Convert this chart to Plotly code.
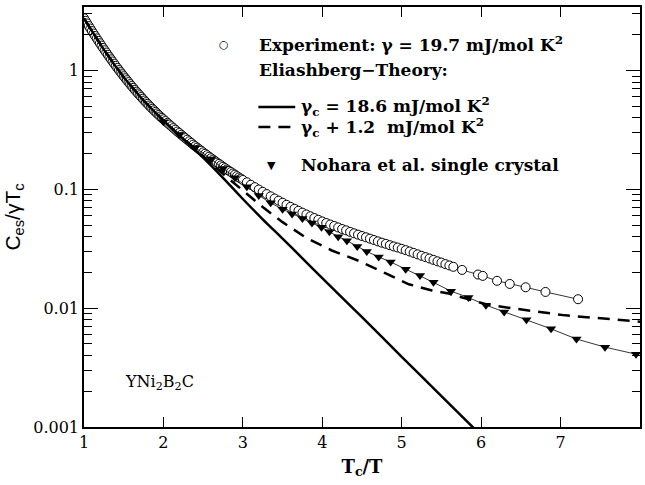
import plotly.graph_objects as go

# ---------------- data ----------------
exp_x = [1.00, 1.02, 1.04, 1.06, 1.08, 1.10, 1.12, 1.14, 1.16, 1.18,
         1.20, 1.22, 1.24, 1.26, 1.28, 1.30, 1.32, 1.34, 1.36, 1.38,
         1.40, 1.42, 1.44, 1.46, 1.48, 1.50, 1.52, 1.54, 1.56, 1.58,
         1.60, 1.62, 1.64, 1.66, 1.68, 1.70, 1.72, 1.74, 1.76, 1.78,
         1.80, 1.82, 1.84, 1.86, 1.88, 1.90, 1.92, 1.94, 1.96, 1.98,
         2.000, 2.025, 2.050, 2.075, 2.100, 2.125, 2.150, 2.175, 2.200, 2.225,
         2.250, 2.275, 2.300, 2.325, 2.350, 2.375, 2.400, 2.425, 2.450, 2.475,
         2.500, 2.525, 2.550, 2.575, 2.600, 2.625, 2.650, 2.675, 2.700, 2.725,
         2.750, 2.775, 2.800, 2.825, 2.850, 2.875, 2.900, 2.925, 2.950, 2.975,
         3.00, 3.05, 3.10, 3.15, 3.20, 3.25, 3.30, 3.35, 3.40, 3.45,
         3.50, 3.55, 3.60, 3.65, 3.70, 3.75, 3.80, 3.85, 3.90, 3.95,
         4.00, 4.05, 4.10, 4.15, 4.20, 4.25, 4.30, 4.35, 4.40, 4.45,
         4.50, 4.55, 4.60, 4.65, 4.70, 4.75, 4.80, 4.85, 4.90, 4.95,
         5.00, 5.05, 5.10, 5.15, 5.20, 5.25, 5.30, 5.35, 5.40, 5.45,
         5.50, 5.55, 5.60, 5.65, 5.76, 5.96, 6.02, 6.20, 6.36, 6.56,
         6.81, 7.22]
exp_y = [2.754, 2.619, 2.491, 2.371, 2.258, 2.150, 2.049, 1.954, 1.864, 1.779,
         1.698, 1.622, 1.550, 1.482, 1.418, 1.357, 1.299, 1.244, 1.192, 1.143,
         1.096, 1.052, 1.010, 0.970, 0.932, 0.896, 0.862, 0.830, 0.799, 0.769,
         0.741, 0.715, 0.689, 0.665, 0.642, 0.620, 0.599, 0.579, 0.560, 0.542,
         0.525, 0.508, 0.492, 0.477, 0.463, 0.449, 0.436, 0.423, 0.411, 0.400,
         0.389, 0.376, 0.363, 0.351, 0.340, 0.328, 0.318, 0.307, 0.298, 0.288,
         0.279, 0.270, 0.262, 0.254, 0.246, 0.238, 0.231, 0.2245, 0.218, 0.2115,
         0.205, 0.1994, 0.194, 0.1883, 0.183, 0.178, 0.173, 0.168, 0.164, 0.1594,
         0.155, 0.151, 0.147, 0.1433, 0.140, 0.1361, 0.133, 0.1294, 0.126, 0.1232,
         0.120, 0.1146, 0.1093, 0.1044, 0.0997, 0.0954, 0.0913, 0.0874, 0.0838, 0.0804,
         0.0772, 0.0742, 0.0713, 0.0687, 0.0661, 0.0637, 0.0615, 0.0594, 0.0574, 0.0555,
         0.0537, 0.0521, 0.0506, 0.0492, 0.0478, 0.0464, 0.0452, 0.0439, 0.0427, 0.0416,
         0.0405, 0.0395, 0.0385, 0.0375, 0.0365, 0.0356, 0.0348, 0.0339, 0.0331, 0.0324,
         0.0316, 0.0308, 0.0300, 0.0292, 0.0284, 0.0276, 0.0269, 0.0262, 0.0255, 0.0248,
         0.0242, 0.0235, 0.0229, 0.0223, 0.0210, 0.0192, 0.0187, 0.0170, 0.0160, 0.0150,
         0.0137, 0.0119]

theory_x = [1.00, 1.25, 1.50, 1.75, 2.00, 2.25, 2.50, 2.75, 3.00, 3.25,
            3.50, 3.75, 4.00, 4.50, 5.00, 5.50, 6.00]
theory_y = [2.75, 1.50, 0.88, 0.56, 0.38, 0.265, 0.185, 0.125, 0.083, 0.056,
            0.0385, 0.0263, 0.0179, 0.0084, 0.0039, 0.00182, 0.00085]

theory2_x = [1.00, 1.25, 1.50, 1.75, 2.00, 2.25, 2.50, 2.75, 3.00, 3.25,
             3.50, 3.80, 4.12, 4.46, 4.80, 5.09, 5.38, 5.59, 6.06, 6.43,
             7.06, 7.69, 8.00]
theory2_y = [2.75, 1.50, 0.88, 0.56, 0.38, 0.267, 0.19, 0.135, 0.097, 0.071,
             0.053, 0.039, 0.0306, 0.025, 0.0196, 0.0159, 0.0141, 0.0133, 0.0108, 0.0099,
             0.0087, 0.0080, 0.0077]

nohara_x = [2.00, 2.20, 2.40, 2.60, 2.75, 2.90, 3.05, 3.20, 3.35, 3.50,
            3.62, 3.75, 3.87, 3.99, 4.09, 4.20, 4.31, 4.44, 4.56, 4.71,
            4.86, 5.05, 5.23, 5.40, 5.62, 5.84, 6.06, 6.29, 6.57, 6.88,
            7.20, 7.56, 7.95]
nohara_y = [0.37, 0.29, 0.225, 0.180, 0.150, 0.125, 0.105, 0.089, 0.077, 0.068,
            0.062, 0.057, 0.052, 0.048, 0.044, 0.040, 0.037, 0.033, 0.030, 0.027,
            0.0245, 0.0213, 0.0188, 0.0165, 0.0139, 0.0123, 0.0106, 0.0093, 0.0080, 0.0067,
            0.0055, 0.0047, 0.0041]

x_ticks = [1, 2, 3, 4, 5, 6, 7, 8]
y_ticks = [0.001, 0.01, 0.1, 1]
y_ticktext = ["0.001", "0.01", "0.1", "1"]
y_minor = [m * 10.0 ** e for e in (-3, -2, -1) for m in range(2, 10)] + [2, 3]

SERIF = "DejaVu Serif"

fig = go.Figure()
fig.add_trace(go.Scatter(x=exp_x, y=exp_y, mode="lines+markers",
                         line=dict(color="black", width=0.8),
                         marker=dict(symbol="circle", size=9, color="white",
                                     line=dict(color="black", width=1))))
fig.add_trace(go.Scatter(x=nohara_x, y=nohara_y, mode="lines+markers",
                         line=dict(color="black", width=0.8),
                         marker=dict(symbol="triangle-down", size=9, color="black")))
fig.add_trace(go.Scatter(x=theory_x, y=theory_y, mode="lines", line_shape="spline",
                         line=dict(color="black", width=2.5, smoothing=0.6)))
fig.add_trace(go.Scatter(x=theory2_x, y=theory2_y, mode="lines",
                         line=dict(color="black", width=2.5, dash="12px,8px")))

axis_common = dict(showline=True, linecolor="black", linewidth=1.5, mirror="ticks",
                   ticks="inside", tickcolor="black", showgrid=False, zeroline=False,
                   tickfont=dict(family=SERIF, size=16, color="black"))

fig.update_xaxes(range=[1, 8], tickvals=x_ticks, ticklen=10, tickwidth=1.2,
                 title=dict(text="<b>T<sub>c</sub>/T</b>", font=dict(family=SERIF, size=18, color="black"),
                            standoff=9),
                 **axis_common)
fig.update_yaxes(type="log", range=[-3, 0.535], tickvals=y_ticks, ticktext=y_ticktext,
                 ticklen=14, tickwidth=1.2,
                 minor=dict(tickvals=y_minor, ticks="inside", ticklen=8, tickcolor="black", tickwidth=1),
                 title=dict(text="C<sub>es</sub>/γT<sub>c</sub>",
                            font=dict(family="Liberation Sans", size=21, color="black"), standoff=7),
                 **axis_common)

def px2paper(px, py):
    return (px - 84) / 558.0, (427 - py) / 420.0

ann = []
def text(px, py, s, size=17, bold=True, xanchor="left"):
    x, y = px2paper(px, py)
    ann.append(dict(x=x, y=y, xref="paper", yref="paper", text=(f"<b>{s}</b>" if bold else s),
                    showarrow=False, xanchor=xanchor, yanchor="middle",
                    font=dict(family=SERIF, size=size, color="black")))

text(225, 44, "○", size=11, bold=False, xanchor="center")
text(258, 44, "Experiment: γ = 19.7 mJ/mol K<sup>2</sup>")
text(258, 70, "Eliashberg−Theory:")
text(300, 106, "γ<sub>c</sub> = 18.6 mJ/mol K<sup>2</sup>")
text(300, 127, "γ<sub>c</sub> + 1.2  mJ/mol K<sup>2</sup>")
text(272, 165, "▼", size=11, bold=False, xanchor="center")
text(300, 165, "Nohara et al. single crystal")
text(123, 382, "YNi<sub>2</sub>B<sub>2</sub>C", size=16, bold=False)

shapes = []
x0, y0 = px2paper(259, 107)
x1, _ = px2paper(296, 107)
shapes.append(dict(type="line", xref="paper", yref="paper", x0=x0, x1=x1, y0=y0, y1=y0,
                   line=dict(color="black", width=2.5)))
x0, y0 = px2paper(259, 127)
x1, _ = px2paper(296, 127)
shapes.append(dict(type="line", xref="paper", yref="paper", x0=x0, x1=x1, y0=y0, y1=y0,
                   line=dict(color="black", width=2.5, dash="12px,8px")))

fig.update_layout(width=645, height=485, margin=dict(l=84, r=3, t=7, b=58),
                  paper_bgcolor="white", plot_bgcolor="white", showlegend=False,
                  annotations=ann, shapes=shapes)

fig.write_html("out.html")
